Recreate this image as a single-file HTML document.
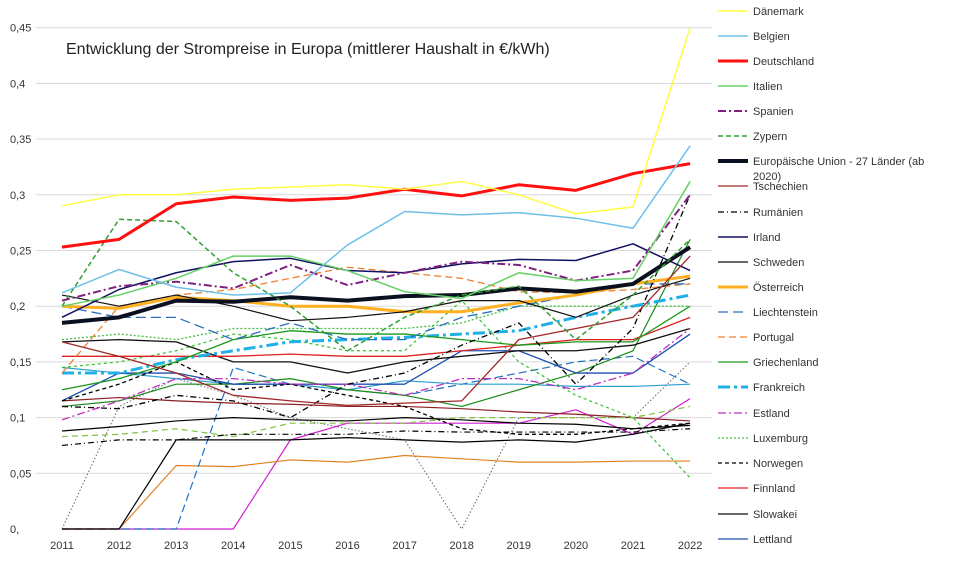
<!DOCTYPE html>
<html><head><meta charset="utf-8"><style>
body{margin:0;background:#fff;width:960px;height:562px;overflow:hidden;font-family:"Liberation Sans",sans-serif}
svg{position:absolute;left:0;top:0}
</style></head><body>
<svg id="s" width="960" height="562" font-family="Liberation Sans, sans-serif">
<rect width="960" height="562" fill="#fff"/>
<text x="66" y="54" font-size="16" fill="#222">Entwicklung der Strompreise in Europa (mittlerer Haushalt in €/kWh)</text>
</svg>
<script>
const s=document.getElementById('s');const NS='http://www.w3.org/2000/svg';
function el(t,a,txt){const e=document.createElementNS(NS,t);for(const k in a)e.setAttribute(k,a[k]);if(txt!=null)e.textContent=txt;s.appendChild(e);return e;}
const X=i=>62+i*57.1, Y=v=>529-v*1114;
const yl=['0,','0,05','0,1','0,15','0,2','0,25','0,3','0,35','0,4','0,45'];
for(let k=0;k<10;k++){const y=Y(k*0.05);
 if(k>0)el('line',{x1:36,x2:712,y1:y,y2:y,stroke:'#d9d9d9','stroke-width':1});
 el('text',{x:10,y:y+4,'font-size':11,fill:'#333'},yl[k]);}
for(let i=0;i<12;i++)el('text',{x:X(i),y:549,'font-size':11,fill:'#333','text-anchor':'middle'},2011+i);
// extra unlabeled series
const extra=[
['#666',1,'1.5 2',[0,0.11,0.135,0.12,0.1,0.09,0.08,0,0.1,0.1,0.1,0.15]],
['#d020d0',1.2,'',[0,0,0,0,0.08,0.095,0.095,0.095,0.095,0.107,0.085,0.117]],
['#e08020',1.2,'',[0,0,0.057,0.056,0.062,0.06,0.066,0.063,0.06,0.06,0.061,0.061]],
['#2070c0',1.2,'8 4',[0,0,0,0.145,0.13,0.125,0.12,0.13,0.14,0.15,0.155,0.13]],
['#000',1.2,'',[0,0,0.08,0.08,0.08,0.082,0.08,0.078,0.08,0.078,0.085,0.095]],
['#2aa0d0',1.2,'',[0.145,0.14,0.135,0.13,0.13,0.125,0.133,0.13,0.13,0.128,0.128,0.13]],
['#8b2020',1.2,'',[0.115,0.118,0.115,0.113,0.112,0.11,0.11,0.108,0.105,0.103,0.1,0.097]],
['#80c040',1.2,'6 4',[0.083,0.085,0.09,0.083,0.095,0.095,0.095,0.1,0.1,0.1,0.1,0.11]],
['#000',1.2,'6 3 1 3',[0.075,0.08,0.08,0.085,0.085,0.085,0.088,0.087,0.087,0.087,0.087,0.09]],
['#1a8a1a',1.2,'',[0.11,0.115,0.13,0.13,0.135,0.125,0.12,0.11,0.125,0.14,0.16,0.26]],
['#000',1.2,'',[0.088,0.092,0.097,0.1,0.098,0.097,0.1,0.098,0.095,0.094,0.09,0.093]],
['#30c030',1.2,'3 3',[0.145,0.15,0.16,0.175,0.17,0.16,0.16,0.205,0.15,0.12,0.1,0.046]]
];
const ser=[
['Dänemark','#ffff40',1.5,'',[0.29,0.3,0.3,0.305,0.307,0.309,0.305,0.312,0.3,0.283,0.289,0.45]],
['Belgien','#6ec0e8',1.5,'',[0.212,0.233,0.217,0.21,0.212,0.255,0.285,0.282,0.284,0.279,0.27,0.344]],
['Deutschland','#ff1010',3,'',[0.253,0.26,0.292,0.298,0.295,0.297,0.305,0.299,0.309,0.304,0.319,0.328]],
['Italien','#66d066',1.5,'',[0.2,0.21,0.225,0.245,0.245,0.232,0.213,0.207,0.23,0.223,0.225,0.312]],
['Spanien','#802080',2,'8 3 2 3',[0.205,0.218,0.222,0.216,0.237,0.219,0.23,0.24,0.237,0.223,0.232,0.3]],
['Zypern','#30a030',1.5,'5 3',[0.2,0.278,0.276,0.23,0.2,0.16,0.19,0.21,0.218,0.17,0.21,0.26]],
['Europäische Union - 27 Länder (ab','#0a1020',4,'',[0.185,0.19,0.205,0.204,0.208,0.205,0.209,0.21,0.216,0.213,0.22,0.253]],
['Tschechien','#a02828',1.3,'',[0.168,0.155,0.14,0.12,0.115,0.111,0.113,0.115,0.17,0.18,0.19,0.245]],
['Rumänien','#000',1.3,'6 3 1 3',[0.11,0.108,0.12,0.115,0.1,0.13,0.14,0.165,0.185,0.13,0.18,0.3]],
['Irland','#101060',1.5,'',[0.19,0.215,0.23,0.24,0.243,0.232,0.23,0.238,0.242,0.241,0.256,0.232]],
['Schweden','#111',1.2,'',[0.21,0.2,0.21,0.2,0.187,0.19,0.195,0.205,0.205,0.19,0.21,0.225]],
['Österreich','#ffb020',3,'',[0.2,0.198,0.208,0.205,0.2,0.2,0.195,0.195,0.203,0.21,0.22,0.227]],
['Liechtenstein','#2a70c0',1.3,'10 5',[0.2,0.19,0.19,0.17,0.185,0.17,0.17,0.19,0.2,0.21,0.22,0.22]],
['Portugal','#f08030',1.3,'7 4',[0.14,0.2,0.21,0.215,0.225,0.235,0.23,0.225,0.213,0.212,0.215,0.22]],
['Griechenland','#1a9a1a',1.3,'',[0.125,0.135,0.15,0.17,0.178,0.175,0.175,0.17,0.165,0.168,0.168,0.2]],
['Frankreich','#20b0e8',3,'12 4 3 4',[0.14,0.14,0.152,0.16,0.168,0.17,0.172,0.175,0.178,0.19,0.2,0.21]],
['Estland','#c030c0',1.3,'8 3 2 3',[0.098,0.115,0.135,0.135,0.13,0.13,0.12,0.135,0.135,0.125,0.14,0.18]],
['Luxemburg','#40c040',1.3,'2 2',[0.17,0.175,0.17,0.18,0.18,0.18,0.18,0.185,0.2,0.2,0.2,0.2]],
['Norwegen','#000',1.3,'4 3',[0.115,0.13,0.15,0.125,0.13,0.12,0.11,0.09,0.085,0.085,0.09,0.095]],
['Finnland','#e02020',1.3,'',[0.155,0.155,0.155,0.155,0.157,0.155,0.155,0.16,0.165,0.17,0.17,0.19]],
['Slowakei','#111',1.3,'',[0.168,0.17,0.168,0.15,0.15,0.14,0.15,0.155,0.16,0.16,0.165,0.18]],
['Lettland','#2050b0',1.3,'',[0.115,0.14,0.14,0.13,0.13,0.13,0.13,0.16,0.16,0.14,0.14,0.175]]
];
function line(c,w,d,v){el('polyline',{points:v.map((y,i)=>X(i)+','+Y(y)).join(' '),fill:'none',stroke:c,'stroke-width':w,'stroke-dasharray':d||'none','stroke-linejoin':'round'});}
extra.forEach(e=>line(e[0],e[1],e[2],e[3]));
ser.slice().reverse().forEach(e=>line(e[1],e[2],e[3],e[4]));
const ly=[11,36,61,86,111,136,161,186,212,237,262,287,312,337,362,387,413,438,463,488,514,539];
ser.forEach((e,i)=>{const y=ly[i];
 el('line',{x1:718,x2:748,y1:y,y2:y,stroke:e[1],'stroke-width':e[2],'stroke-dasharray':e[3]||'none'});
 el('text',{x:753,y:y+4,'font-size':11,fill:'#333'},e[0]);
 if(i==6)el('text',{x:753,y:y+19,'font-size':11,fill:'#333'},'2020)');
});
</script>
</body></html>
